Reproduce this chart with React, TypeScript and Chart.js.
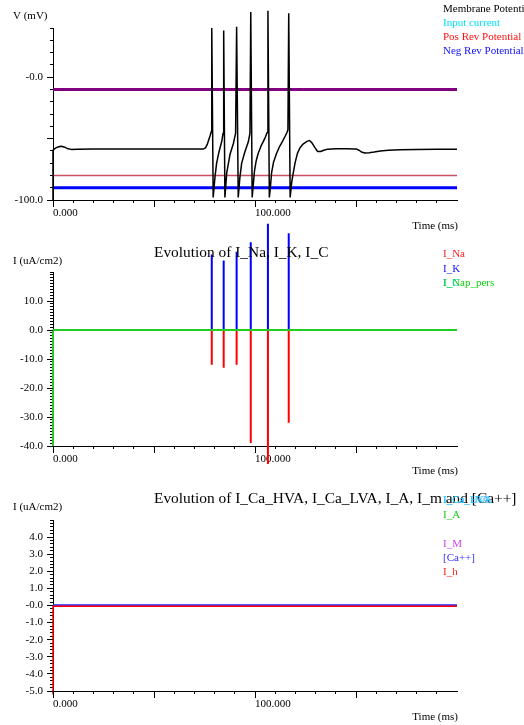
import React, { useEffect, useRef } from 'react';
import { Chart, registerables } from 'chart.js';

Chart.register(...registerables);

const FONT = '"Liberation Serif", "Times New Roman", serif';
const PAGE_W = 524;
const PAGE_H = 725;

// ---------- shared time axis (ms) ----------
const timeRange = [0, 200];
const timeTicks = [0, 10, 20, 30, 40, 50, 60, 70, 80, 90, 100, 110, 120, 130, 140, 150, 160, 170, 180, 190];
const timeMajorTicks = [0, 50, 100, 150];
const timeLabelValues = [0, 100];
const timeLabelTexts = ['0.000', '100.000'];

// ---------- panel 1: membrane potential (mV) ----------
const vTime = [
  0, 0, 1, 2.5, 4, 5.5, 7, 9, 12, 20, 40, 60, 74.5, 75.5, 76.3, 77, 77.8, 78.4, 78.6,
  79.3, 80.2, 81, 82.2, 83.5, 84.2, 84.5,
  85.1, 86, 87.6, 89.3, 90.4, 90.9,
  91.7, 92.5, 93.4, 95, 96.7, 97.5, 97.9,
  98.6, 99.7, 100.6, 101.6, 103, 104.1, 105.2, 106, 106.4,
  107.1, 107.6, 108.2, 109.2, 110.7, 112, 113.2, 114.5, 115.7, 116.3, 116.7,
  117.4, 118.2, 119.8, 121, 122.3, 123.8, 125.5, 127, 128.2, 129.5, 131, 132.5, 134, 136, 140, 145, 150,
  151.5, 153, 154.5, 156.5, 159, 162, 166, 172, 180, 190, 200,
];
const vMembrane = [
  -100, -59.5, -58, -56.8, -56.2, -56.8, -58, -58.8, -58.6, -58.4, -58.4, -58.4, -58.4, -57.5, -55, -51.5, -47.5, -44, 40,
  -98, -81, -70, -60.7, -52.6, -45.5, 38,
  -98, -78, -63, -54, -45.5, 41,
  -98, -82, -70, -60.7, -52.6, -45.5, 53,
  -98, -77, -68, -62, -56, -52.5, -48.5, -45, 54,
  -98, -90, -78, -69, -62, -57, -53.6, -49.5, -45.5, -43, 52,
  -98, -85, -70, -62, -57.5, -54.5, -52.5, -51.5, -53.5, -57, -60.5, -60.5, -59.5, -58.6, -58.2, -58.2, -58.4,
  -59.5, -61.2, -61.8, -61.6, -61, -60.2, -59.6, -59.2, -58.9, -58.7, -58.6,
];
const upperRevPotential = -10;
const posRevPotential = -80;
const negRevPotential = -90;

const vRange = [-100, 40];
const vTicks = [-100, -90, -80, -70, -60, -50, -40, -30, -20, -10, 0, 10, 20, 30, 40];
const vMajorTicks = [-100, -50, 0];
const vLabelValues = [0, -100];
const vLabelTexts = ['-0.0', '-100.0'];

const vLegend = ['Membrane Potential', 'Input current', 'Pos Rev Potential', 'Neg Rev Potential'];
const vLegendColors = ['#000000', '#00e0ff', '#ff1010', '#1010ff'];

// ---------- panel 2: I_Na, I_K, I_C (uA/cm2) ----------
const spikeTimes = [78.6, 84.5, 90.9, 97.9, 106.4, 116.7];
const iNaPeaks = [-12, -13, -12, -39, -46.2, -32];
const iKPeaks = [26, 24, 27, 30.3, 36.6, 33.4];
const iNapStart = -40;
const iNapLevel = 0;

const iRange = [-40, 20];
const iTicks: number[] = [];
for (let v = -40; v <= 20; v += 1) iTicks.push(v);
const iMajorTicks = [-40, -30, -20, -10, 0, 10];
const iLabelValues = [10, 0, -10, -20, -30, -40];
const iLabelTexts = ['10.0', '0.0', '-10.0', '-20.0', '-30.0', '-40.0'];

const iTitle = 'Evolution of I_Na, I_K, I_C';
const iLegend = ['I_Na', 'I_K', 'I_C', 'I_Nap_pers'];
const iLegendColors = ['#ff2020', '#1010ff', '#00e0ff', '#10d010'];

// ---------- panel 3: calcium-related currents ----------
const caStartIh = -5.2;
const caLevelIh = -0.05;
const caLevelConc = 0.03;
const caLevelOthers = 0;

const caRange = [-5, 5];
const caTicks: number[] = [];
for (let i = -25; i <= 25; i++) caTicks.push(i / 5);
const caMajorTicks = [-5, -4, -3, -2, -1, 0, 1, 2, 3, 4];
const caLabelValues = [4, 3, 2, 1, 0, -1, -2, -3, -4, -5];
const caLabelTexts = ['4.0', '3.0', '2.0', '1.0', '-0.0', '-1.0', '-2.0', '-3.0', '-4.0', '-5.0'];

const caTitle = 'Evolution of I_Ca_HVA, I_Ca_LVA, I_A, I_m and [Ca++]';
const caLegend = ['I_Ca_LVA', 'I_Ca_HVA', 'I_A', 'I_M', '[Ca++]', 'I_h'];
const caLegendColors = ['#40a8ff', '#30d0ff', '#10d010', '#d040f0', '#3030ff', '#ff2020'];

// ---------- helpers ----------
type TextItem = { text: string; x: number; y: number; color: string; size: number; align: CanvasTextAlign };

const pts = (xs: number[], ys: number[]) => xs.map((x, i) => ({ x, y: ys[i] }));
const flat = (y: number) => [{ x: timeRange[0], y }, { x: timeRange[1], y }];
const spikes = (times: number[], peaks: number[]) => {
  const out: { x: number; y: number }[] = [{ x: 0, y: 0 }];
  times.forEach((t, i) => {
    out.push({ x: t, y: 0 }, { x: t, y: peaks[i] }, { x: t, y: 0 });
  });
  out.push({ x: timeRange[1], y: 0 });
  return out;
};

const labelFor = (values: number[], texts: string[]) => (v: number) => {
  const k = values.findIndex((u) => Math.abs(u - v) < 1e-6);
  return k >= 0 ? texts[k] : '';
};

function makeOverlay(majorX: number[], majorY: number[], texts: TextItem[]) {
  return {
    id: 'overlay',
    afterDraw(chart: any) {
      const ctx: CanvasRenderingContext2D = chart.ctx;
      const { left, bottom } = chart.chartArea;
      const xs = chart.scales.x;
      const ys = chart.scales.y;
      ctx.save();
      // longer marks at the major tick values
      ctx.strokeStyle = '#000';
      ctx.lineWidth = 1;
      ctx.beginPath();
      majorX.forEach((v) => {
        const px = Math.round(xs.getPixelForValue(v) + 0.5) - 0.5;
        ctx.moveTo(px, bottom);
        ctx.lineTo(px, bottom + 7);
      });
      majorY.forEach((v) => {
        const py = Math.round(ys.getPixelForValue(v) + 0.5) - 0.5;
        ctx.moveTo(left - 6, py);
        ctx.lineTo(left, py);
      });
      ctx.stroke();
      // titles, axis names and legend entries
      ctx.textBaseline = 'middle';
      texts.forEach((t) => {
        ctx.font = `${t.size}px ${FONT}`;
        ctx.fillStyle = t.color;
        ctx.textAlign = t.align;
        ctx.fillText(t.text, t.x, t.y);
      });
      ctx.restore();
    },
  };
}

function xAxis() {
  return {
    type: 'linear',
    position: 'bottom',
    min: timeRange[0],
    max: timeRange[1],
    afterBuildTicks: (s: any) => {
      s.ticks = timeTicks.map((value) => ({ value }));
    },
    afterFit: (s: any) => {
      s.height = 30;
    },
    ticks: {
      autoSkip: false,
      maxRotation: 0,
      minRotation: 0,
      align: 'start',
      padding: 4,
      color: '#000',
      font: { family: FONT, size: 11 },
      callback: labelFor(timeLabelValues, timeLabelTexts),
    },
    grid: { drawOnChartArea: false, tickLength: 3, tickColor: '#000', tickWidth: 1 },
    border: { display: true, color: '#000', width: 1 },
  };
}

function yAxis(range: number[], ticks: number[], labelValues: number[], labelTexts: string[]) {
  return {
    type: 'linear',
    position: 'left',
    min: range[0],
    max: range[1],
    afterBuildTicks: (s: any) => {
      s.ticks = ticks.map((value) => ({ value }));
    },
    afterFit: (s: any) => {
      s.width = 53;
    },
    ticks: {
      autoSkip: false,
      padding: 7,
      color: '#000',
      font: { family: FONT, size: 11 },
      callback: labelFor(labelValues, labelTexts),
    },
    grid: { drawOnChartArea: false, tickLength: 3, tickColor: '#000', tickWidth: 1 },
    border: { display: true, color: '#000', width: 1 },
  };
}

function panelConfig(
  datasets: any[],
  top: number,
  bottom: number,
  y: any,
  majorY: number[],
  texts: TextItem[],
) {
  return {
    type: 'line',
    data: {
      datasets: datasets.map((d) => ({
        pointRadius: 0,
        pointHoverRadius: 0,
        fill: false,
        tension: 0,
        clip: false,
        borderJoinStyle: 'bevel',
        ...d,
      })),
    },
    options: {
      responsive: false,
      maintainAspectRatio: false,
      animation: false,
      devicePixelRatio: 1,
      events: [],
      layout: { padding: { left: 0, right: PAGE_W - 457, top, bottom: PAGE_H - bottom - 30 } },
      plugins: { legend: { display: false }, tooltip: { enabled: false }, title: { display: false } },
      scales: { x: xAxis(), y },
    },
    plugins: [makeOverlay(timeMajorTicks, majorY, texts)],
  } as any;
}

const legendItems = (labels: string[], colors: string[], ys: number[]): TextItem[] =>
  labels.map((text, i) => ({ text, x: 443, y: ys[i], color: colors[i], size: 11, align: 'left' }));

function buildPanel1() {
  const texts: TextItem[] = [
    { text: 'V (mV)', x: 13, y: 16, color: '#000', size: 11, align: 'left' },
    { text: 'Time (ms)', x: 458, y: 226, color: '#000', size: 11, align: 'right' },
    ...legendItems(vLegend, vLegendColors, [9, 23, 37, 51]),
  ];
  return panelConfig(
    [
      { label: 'Membrane Potential', data: pts(vTime, vMembrane), borderColor: '#000000', borderWidth: 1.5 },
      { label: 'Neg Rev Potential', data: flat(negRevPotential), borderColor: '#0000ff', borderWidth: 3 },
      { label: 'Pos Rev Potential', data: flat(posRevPotential), borderColor: '#cc5064', borderWidth: 1.6 },
      { label: 'Rev Potential', data: flat(upperRevPotential), borderColor: '#800080', borderWidth: 3 },
    ],
    28,
    200,
    yAxis(vRange, vTicks, vLabelValues, vLabelTexts),
    vMajorTicks,
    texts,
  );
}

function buildPanel2() {
  const texts: TextItem[] = [
    { text: iTitle, x: 154, y: 253, color: '#000', size: 15.4, align: 'left' },
    { text: 'I (uA/cm2)', x: 13, y: 261, color: '#000', size: 11, align: 'left' },
    { text: 'Time (ms)', x: 458, y: 471, color: '#000', size: 11, align: 'right' },
    ...legendItems(iLegend, iLegendColors, [254, 269, 283, 283]),
  ];
  return panelConfig(
    [
      { label: 'I_Nap_pers', data: [{ x: 0, y: iNapStart }, { x: 0, y: iNapLevel }, { x: timeRange[1], y: iNapLevel }], borderColor: '#22cc22', borderWidth: 2 },
      { label: 'I_K', data: spikes(spikeTimes, iKPeaks), borderColor: '#0000ff', borderWidth: 2 },
      { label: 'I_Na', data: spikes(spikeTimes, iNaPeaks), borderColor: '#ff0000', borderWidth: 2 },
    ],
    272,
    446,
    yAxis(iRange, iTicks, iLabelValues, iLabelTexts),
    iMajorTicks,
    texts,
  );
}

function buildPanel3() {
  const texts: TextItem[] = [
    { text: caTitle, x: 154, y: 499, color: '#000', size: 15.4, align: 'left' },
    { text: 'I (uA/cm2)', x: 13, y: 507, color: '#000', size: 11, align: 'left' },
    { text: 'Time (ms)', x: 458, y: 717, color: '#000', size: 11, align: 'right' },
    ...legendItems(caLegend, caLegendColors, [500, 500, 515, 544, 558.5, 572]),
  ];
  return panelConfig(
    [
      { label: 'I_h', data: [{ x: 0, y: caStartIh }, { x: 0, y: caLevelIh }, { x: timeRange[1], y: caLevelIh }], borderColor: '#ff0000', borderWidth: 1.5 },
      { label: '[Ca++]', data: flat(caLevelConc), borderColor: '#2020ff', borderWidth: 1.5 },
      { label: 'I_M', data: flat(caLevelOthers), borderColor: '#d040f0', borderWidth: 1 },
      { label: 'I_A', data: flat(caLevelOthers), borderColor: '#10d010', borderWidth: 1 },
      { label: 'I_Ca_HVA', data: flat(caLevelOthers), borderColor: '#30d0ff', borderWidth: 1 },
      { label: 'I_Ca_LVA', data: flat(caLevelOthers), borderColor: '#40a8ff', borderWidth: 1 },
    ],
    520,
    691,
    yAxis(caRange, caTicks, caLabelValues, caLabelTexts),
    caMajorTicks,
    texts,
  );
}

export default function App() {
  const c1 = useRef<HTMLCanvasElement>(null);
  const c2 = useRef<HTMLCanvasElement>(null);
  const c3 = useRef<HTMLCanvasElement>(null);

  useEffect(() => {
    const charts = [
      new Chart(c1.current as HTMLCanvasElement, buildPanel1()),
      new Chart(c2.current as HTMLCanvasElement, buildPanel2()),
      new Chart(c3.current as HTMLCanvasElement, buildPanel3()),
    ];
    return () => charts.forEach((c) => c.destroy());
  }, []);

  const layer: React.CSSProperties = { position: 'absolute', left: 0, top: 0, width: PAGE_W, height: PAGE_H };
  return (
    <div style={{ position: 'absolute', left: 0, top: 0, width: PAGE_W, height: PAGE_H, background: '#ffffff', overflow: 'hidden' }}>
      <canvas ref={c1} width={PAGE_W} height={PAGE_H} style={layer} />
      <canvas ref={c2} width={PAGE_W} height={PAGE_H} style={layer} />
      <canvas ref={c3} width={PAGE_W} height={PAGE_H} style={layer} />
    </div>
  );
}
